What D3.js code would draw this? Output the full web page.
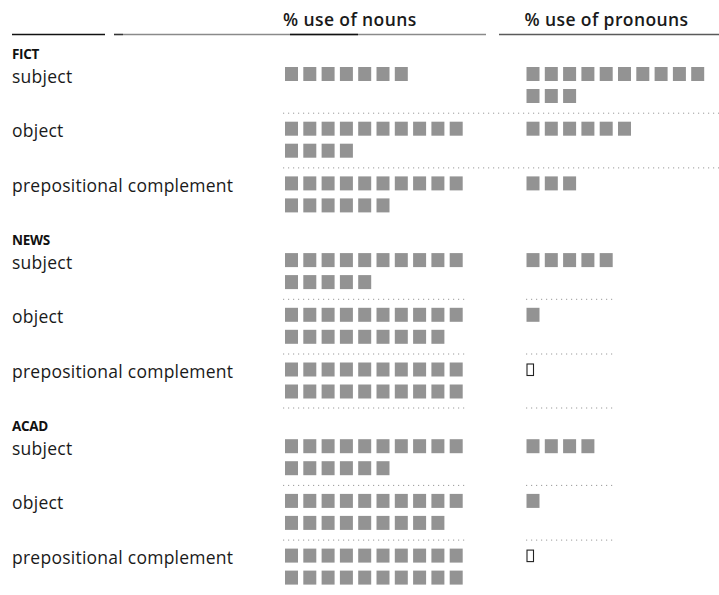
<!DOCTYPE html>
<html><head><meta charset="utf-8">
<script src="https://cdn.jsdelivr.net/npm/d3@7"></script>
<style>
html,body{margin:0;padding:0;background:#fff;}
svg{display:block;font-family:"Open Sans",sans-serif;}
</style></head>
<body>
<svg id="chart" width="719" height="595"></svg>
<script>
// ---- data (each filled square = 5%; values under 5% drawn as an open marker)
const registers = ["FICT", "NEWS", "ACAD"];
const roles = ["subject", "object", "prepositional complement"];
const columns = ["% use of nouns", "% use of pronouns"];
const nounPct = [35, 70, 80, 75, 95, 100, 80, 95, 100];
const pronounPct = [65, 30, 15, 25, 5, 2, 20, 5, 2];
const unit = 5;
const perRow = 10;

const svg = d3.select("#chart");
const W = 719;

// scales
const xCol = d3.scaleOrdinal().domain(columns).range([285, 526.5]);
const xSq = d3.scaleLinear().domain([0, 1]).range([0, 18.3]);
const rowIdx = d3.scaleLinear().domain([0, 1]).range([67, 67 + 54.7]);
const groupGap = d3.scaleLinear().domain([0, 1]).range([0, 22]);
const subRow = d3.scaleLinear().domain([0, 1]).range([0, 22]);
const sqW = 13, sqH = 14;

const rows = [];
registers.forEach((g, gi) => roles.forEach((r, ri) => {
  const i = gi * 3 + ri;
  rows.push({g, gi, r, ri, i, y: rowIdx(i) + groupGap(gi), vals: [nounPct[i], pronounPct[i]]});
}));

// header text
svg.selectAll("text.colhead").data(columns).enter().append("text")
  .attr("class", "colhead")
  .attr("x", d => xCol(d) - 2)
  .attr("y", 25.5)
  .attr("font-size", 17.5)
  .attr("font-weight", 600)
  .attr("letter-spacing", 0.4)
  .attr("fill", "#1a1a1a")
  .text(d => d);

// header rules
const rules = [
  {x1: 12, x2: 105, c: "#111", w: 1.6},
  {x1: 114, x2: 123, c: "#333", w: 1.6},
  {x1: 123, x2: 486, c: "#8a8a8a", w: 1.4},
  {x1: 290, x2: 358, c: "#111", w: 1.6},
  {x1: 499, x2: W, c: "#5a5a5a", w: 1.4}
];
svg.selectAll("line.rule").data(rules).enter().append("line")
  .attr("x1", d => d.x1).attr("x2", d => d.x2)
  .attr("y1", 34.5).attr("y2", 34.5)
  .attr("stroke", d => d.c).attr("stroke-width", d => d.w);

// group labels
svg.selectAll("text.grp").data(registers).enter().append("text")
  .attr("class", "grp")
  .attr("x", 12)
  .attr("y", (d, gi) => rowIdx(gi * 3) + groupGap(gi) - 8)
  .attr("font-size", 13.5)
  .attr("font-weight", 700)
  .attr("letter-spacing", -0.3)
  .attr("fill", "#111")
  .text(d => d);

// row labels
svg.selectAll("text.role").data(rows).enter().append("text")
  .attr("class", "role")
  .attr("x", 12)
  .attr("y", d => d.y + 15.5)
  .attr("font-size", 17.5)
  .attr("letter-spacing", 0.25)
  .attr("fill", "#1a1a1a")
  .text(d => d.r);

// dotted separators
const seps = [];
rows.forEach(d => {
  if (d.ri > 0) {
    const yy = d.y - 9;
    if (d.gi === 0) seps.push({x1: 283, x2: W, y: yy});
    else { seps.push({x1: 283, x2: 466, y: yy}); seps.push({x1: 526, x2: 613, y: yy}); }
  }
  if (d.gi === 1 && d.ri === 2) {
    const yy = d.y + 45;
    seps.push({x1: 283, x2: 466, y: yy}); seps.push({x1: 526, x2: 613, y: yy});
  }
});
svg.selectAll("line.sep").data(seps).enter().append("line")
  .attr("x1", d => d.x1).attr("x2", d => d.x2)
  .attr("y1", d => d.y + 0.5).attr("y2", d => d.y + 0.5)
  .attr("stroke", "#9a9a9a").attr("stroke-width", 1)
  .attr("stroke-dasharray", "1.2,3.8");

// squares
const squares = [];
const opens = [];
rows.forEach(d => {
  d.vals.forEach((v, ci) => {
    const n = Math.floor(v / unit);
    for (let k = 0; k < n; k++) {
      squares.push({x: xCol(columns[ci]) + xSq(k % perRow), y: d.y + subRow(Math.floor(k / perRow))});
    }
    if (n === 0 && v > 0) opens.push({x: xCol(columns[ci]), y: d.y});
  });
});
svg.selectAll("rect.sq").data(squares).enter().append("rect")
  .attr("class", "sq")
  .attr("x", d => d.x).attr("y", d => d.y)
  .attr("width", sqW).attr("height", sqH)
  .attr("fill", "#939393");
svg.selectAll("rect.open").data(opens).enter().append("rect")
  .attr("class", "open")
  .attr("x", d => d.x + 0.5).attr("y", d => d.y + 1.5)
  .attr("width", 6.5).attr("height", 11.5)
  .attr("fill", "none").attr("stroke", "#222").attr("stroke-width", 1.1);
</script>
</body></html>
